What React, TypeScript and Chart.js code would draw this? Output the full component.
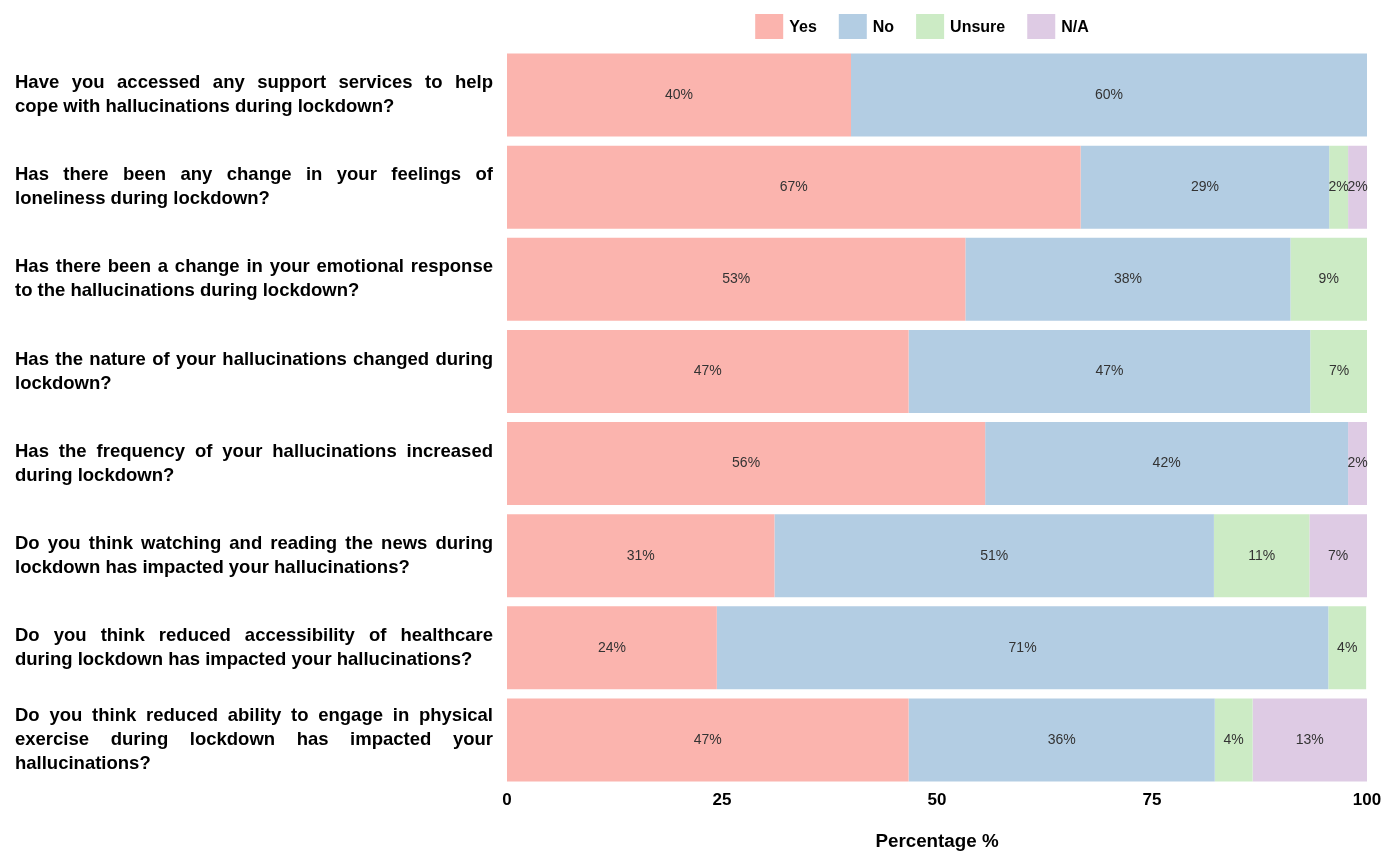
import React, { useEffect, useRef } from "react";
import { Chart, registerables } from "chart.js";

Chart.register(...registerables);

const categories: string[][] = [
  ["Have you accessed any support services to help", "cope with hallucinations during lockdown?"],
  ["Has there been any change in your feelings of", "loneliness during lockdown?"],
  ["Has there been a change in your emotional response", "to the hallucinations during lockdown?"],
  ["Has the nature of your hallucinations changed during", "lockdown?"],
  ["Has the frequency of your hallucinations increased", "during lockdown?"],
  ["Do you think watching and reading the news during", "lockdown has impacted your hallucinations?"],
  ["Do you think reduced accessibility of healthcare", "during lockdown has impacted your hallucinations?"],
  ["Do you think reduced ability to engage in physical", "exercise during lockdown has impacted your", "hallucinations?"],
];

const seriesNames = ["Yes", "No", "Unsure", "N/A"];
const yesValues = [40, 66.7, 53.3, 46.7, 55.6, 31.1, 24.4, 46.7];
const noValues = [60, 28.9, 37.8, 46.7, 42.2, 51.1, 71.1, 35.6];
const unsureValues = [0, 2.2, 8.9, 6.7, 0, 11.1, 4.4, 4.4];
const naValues = [0, 2.2, 0, 0, 2.2, 6.7, 0, 13.3];
const seriesColors = ["#FBB4AE", "#B3CDE3", "#CCEBC5", "#DECBE4"];
const xTicks = [0, 25, 50, 75, 100];

const FONT = '"Liberation Sans", Arial, sans-serif';

const yLabelPlugin = {
  id: "justifiedYLabels",
  afterDraw(chart: any) {
    const ctx = chart.ctx;
    const yScale = chart.scales.y;
    const left = 15;
    const right = 493;
    const lineH = 24;
    ctx.save();
    ctx.font = `bold 18.5px ${FONT}`;
    ctx.fillStyle = "#000";
    ctx.textBaseline = "middle";
    ctx.textAlign = "left";
    chart.data.labels.forEach((lines: string[], i: number) => {
      const cy = yScale.getPixelForValue(i);
      const n = lines.length;
      lines.forEach((line: string, li: number) => {
        const y = cy + (li - (n - 1) / 2) * lineH;
        const words = line.split(" ");
        if (li === n - 1 || words.length < 2) {
          ctx.fillText(line, left, y);
          return;
        }
        const widths = words.map((w) => ctx.measureText(w).width);
        const total = widths.reduce((a, b) => a + b, 0);
        const gap = (right - left - total) / (words.length - 1);
        let x = left;
        words.forEach((w, wi) => {
          ctx.fillText(w, x, y);
          x += widths[wi] + gap;
        });
      });
    });
    ctx.restore();
  },
};

const barLabelPlugin = {
  id: "barValueLabels",
  afterDatasetsDraw(chart: any) {
    const ctx = chart.ctx;
    ctx.save();
    ctx.font = `14px ${FONT}`;
    ctx.fillStyle = "#333";
    ctx.textAlign = "center";
    ctx.textBaseline = "middle";
    chart.data.datasets.forEach((ds: any, di: number) => {
      const meta = chart.getDatasetMeta(di);
      meta.data.forEach((bar: any, i: number) => {
        const v = ds.data[i];
        if (!v) return;
        const x = (bar.x + bar.base) / 2;
        ctx.fillText(`${Math.round(v)}%`, x, bar.y);
      });
    });
    ctx.restore();
  },
};

const legendPlugin = {
  id: "customLegend",
  afterDraw(chart: any) {
    const ctx = chart.ctx;
    const boxW = 28;
    const boxH = 25;
    const textGap = 6;
    const itemGap = 22;
    const top = 14;
    ctx.save();
    ctx.font = `bold 16px ${FONT}`;
    const items = chart.data.datasets.map((ds: any) => ({
      label: ds.label,
      color: ds.backgroundColor,
      w: ctx.measureText(ds.label).width,
    }));
    const total =
      items.reduce((a: number, it: any) => a + boxW + textGap + it.w, 0) + itemGap * (items.length - 1);
    const center = (chart.chartArea.left + chart.chartArea.right) / 2 - 15;
    let x = center - total / 2;
    ctx.textBaseline = "middle";
    ctx.textAlign = "left";
    items.forEach((it: any) => {
      ctx.fillStyle = it.color;
      ctx.fillRect(x, top, boxW, boxH);
      ctx.fillStyle = "#000";
      ctx.fillText(it.label, x + boxW + textGap, top + boxH / 2 + 1);
      x += boxW + textGap + it.w + itemGap;
    });
    ctx.restore();
  },
};

export default function App() {
  const canvasRef = useRef<HTMLCanvasElement | null>(null);

  useEffect(() => {
    document.body.style.margin = "0";
    const canvas = canvasRef.current;
    if (!canvas) return;
    const values = [yesValues, noValues, unsureValues, naValues];
    const chart = new Chart(canvas, {
      type: "bar",
      data: {
        labels: categories as any,
        datasets: seriesNames.map((name, i) => ({
          label: name,
          data: values[i],
          backgroundColor: seriesColors[i],
          borderWidth: 0,
          barPercentage: 0.9,
          categoryPercentage: 1.0,
        })),
      },
      options: {
        animation: false,
        responsive: true,
        maintainAspectRatio: false,
        indexAxis: "y",
        layout: { padding: { top: 49, right: 17, left: 0, bottom: 0 } },
        plugins: {
          legend: { display: false },
          tooltip: { enabled: false },
        },
        scales: {
          x: {
            stacked: true,
            min: 0,
            max: 100,
            afterBuildTicks(scale: any) {
              scale.ticks = xTicks.map((v) => ({ value: v }));
            },
            afterFit(scale: any) {
              scale.height = 65;
              scale.paddingLeft = 0;
              scale.paddingRight = 0;
            },
            grid: { display: false, drawTicks: false },
            border: { display: false },
            ticks: {
              padding: 4,
              color: "#000",
              font: { family: FONT, size: 17, weight: "bold" },
              maxRotation: 0,
            },
            title: {
              display: true,
              text: "Percentage %",
              color: "#000",
              font: { family: FONT, size: 18.8, weight: "bold" },
              padding: { top: 0, bottom: -2 },
            },
          },
          y: {
            stacked: true,
            afterFit(scale: any) {
              scale.width = 507;
            },
            grid: { display: false, drawTicks: false },
            border: { display: false },
            ticks: { display: false },
          },
        },
      },
      plugins: [yLabelPlugin, barLabelPlugin, legendPlugin],
    });
    return () => chart.destroy();
  }, []);

  return (
    <div style={{ width: 1384, height: 851, position: "relative", overflow: "hidden", background: "#fff" }}>
      <canvas ref={canvasRef} />
    </div>
  );
}
